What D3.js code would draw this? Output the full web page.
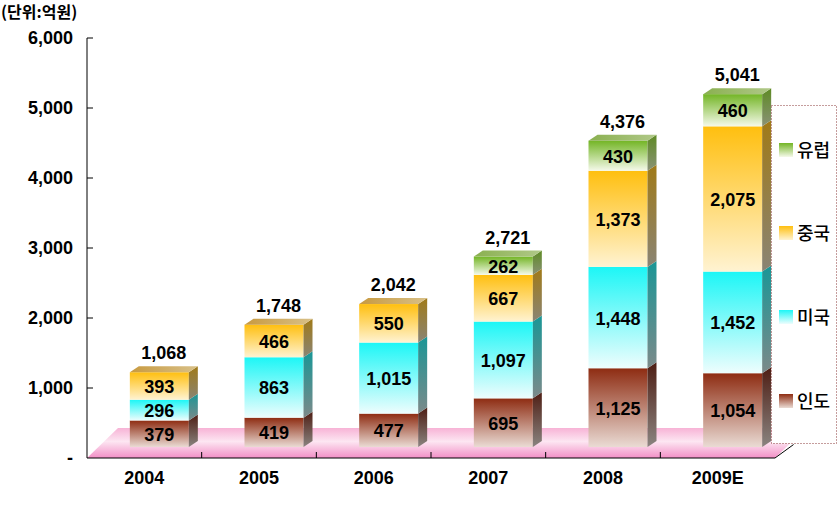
<!DOCTYPE html>
<html><head><meta charset="utf-8">
<script src="https://cdn.jsdelivr.net/npm/d3@7"></script>
<style>body{margin:0;background:#fff}svg{display:block}</style>
</head><body>
<script>
const categories = ["2004","2005","2006","2007","2008","2009E"];
const seriesNames = ["인도","미국","중국","유럽"];
const india  = [379, 419, 477, 695, 1125, 1054];
const usa    = [296, 863, 1015, 1097, 1448, 1452];
const china  = [393, 466, 550, 667, 1373, 2075];
const europe = [0, 0, 0, 262, 430, 460];
const totals = [1068, 1748, 2042, 2721, 4376, 5041];
const yTicks = [0, 1000, 2000, 3000, 4000, 5000, 6000];

const W = 839, H = 506;
const svg = d3.select("body").append("svg").attr("width", W).attr("height", H);
const defs = svg.append("defs");

const frontCols = [["#8e2c12","#eadbd4"],["#1cf6f6","#eefdfd"],["#ffbf0f","#fff3d2"],["#73b525","#f5f9ea"]];
const sideCols  = [["#4e1e14","#8a8480"],["#1a9696","#7c8a8a"],["#a07a18","#8a8474"],["#5e8a24","#8a9276"]];
const topCols   = [["#8a5040","#b89080"],["#5ac8c8","#90d0d0"],["#c89a40","#d8c088"],["#8ab050","#b0c888"]];
function grad(id, c, horiz){
  const g = defs.append("linearGradient").attr("id", id)
    .attr("x1",0).attr("y1",0).attr("x2", horiz?1:0).attr("y2", horiz?0:1);
  g.append("stop").attr("offset","0%").attr("stop-color",c[0]);
  g.append("stop").attr("offset","100%").attr("stop-color",c[1]);
}
seriesNames.forEach((s,i)=>{ grad("f"+i, frontCols[i]); grad("s"+i, sideCols[i]); grad("t"+i, topCols[i], true); });
const fg = defs.append("linearGradient").attr("id","floor").attr("x1",0).attr("y1",0).attr("x2",0).attr("y2",1);
[["0%","#f7b3d6"],["45%","#fde6f2"],["100%","#f28fc6"]].forEach(d=>fg.append("stop").attr("offset",d[0]).attr("stop-color",d[1]));

const x = d3.scaleBand().domain(categories).range([87, 775]).paddingInner(0).paddingOuter(0);
const y = d3.scaleLinear().domain([0, 6000]).range([458, 38]);

// floor
const fd = {dx: 31, dy: -30};
svg.append("polygon").attr("fill","url(#floor)")
  .attr("points", [[87, y(0)],[87+fd.dx, y(0)+fd.dy],[775+fd.dx, y(0)+fd.dy],[775, y(0)]].map(p=>p.join(",")).join(" "));
svg.append("line").attr("x1",775).attr("y1",y(0)).attr("x2",775+fd.dx*0.6).attr("y2",y(0)+fd.dy*0.45).attr("stroke","#000").attr("stroke-width",1);

// y axis
const yAxis = svg.append("g");
yAxis.append("line").attr("x1",87).attr("x2",87).attr("y1",y(6000)).attr("y2",y(0)).attr("stroke","#000");
yTicks.forEach(t=>{
  if(t>0) yAxis.append("line").attr("x1",87).attr("x2",93).attr("y1",y(t)).attr("y2",y(t)).attr("stroke","#000");
  yAxis.append("text").attr("x", 73).attr("y", y(t)+6).attr("text-anchor","end")
    .attr("font-family","Liberation Sans, Arial, sans-serif").attr("font-weight","bold").attr("font-size",18)
    .text(t===0 ? "-" : d3.format(",")(t));
});
// x axis
svg.append("line").attr("x1",87).attr("x2",775).attr("y1",y(0)).attr("y2",y(0)).attr("stroke","#000");
categories.forEach((c,i)=>{
  const bx = x(c)+x.bandwidth();
  if(i<categories.length-1) svg.append("line").attr("x1",bx).attr("x2",bx).attr("y1",y(0)-6).attr("y2",y(0)).attr("stroke","#000");
  svg.append("text").attr("x", x(c)+x.bandwidth()/2).attr("y", 484).attr("text-anchor","middle")
    .attr("font-family","Liberation Sans, Arial, sans-serif").attr("font-weight","bold").attr("font-size",18).text(c);
});

const seriesData = [india, usa, china, europe];
const bw = 59, off = 15, lift = 11, dd = {dx: 9, dy: -6};
const barsG = svg.append("g");
categories.forEach((c,ci)=>{
  const x0 = x(c)+x.bandwidth()/2 + off - bw/2, x1 = x0 + bw;
  let base = 0;
  const segs = [];
  seriesData.forEach((arr,si)=>{
    const v = arr[ci];
    if(v>0){ segs.push({si, v, b: base, t: base+v}); base += v; }
  });
  segs.forEach((s,k)=>{
    const yt = y(s.t)-lift, yb = y(s.b)-lift;
    barsG.append("rect").attr("x",x0).attr("y",yt).attr("width",bw).attr("height",yb-yt).attr("fill",`url(#f${s.si})`);
    barsG.append("polygon").attr("fill",`url(#s${s.si})`)
      .attr("points",[[x1,yt],[x1+dd.dx,yt+dd.dy],[x1+dd.dx,yb+dd.dy],[x1,yb]].map(p=>p.join(",")).join(" "));
    if(k===segs.length-1){
      barsG.append("polygon").attr("fill",`url(#t${s.si})`)
        .attr("points",[[x0,yt],[x0+dd.dx,yt+dd.dy],[x1+dd.dx,yt+dd.dy],[x1,yt]].map(p=>p.join(",")).join(" "));
    }
    barsG.append("text").attr("x",(x0+x1)/2).attr("y",(yt+yb)/2+7).attr("text-anchor","middle")
      .attr("font-family","Liberation Sans, Arial, sans-serif").attr("font-weight","bold").attr("font-size",18)
      .text(d3.format(",")(s.v));
  });
  barsG.append("text").attr("x",(x0+x1)/2+4.5).attr("y", y(totals[ci])-lift+dd.dy-7).attr("text-anchor","middle")
    .attr("font-family","Liberation Sans, Arial, sans-serif").attr("font-weight","bold").attr("font-size",18)
    .text(d3.format(",")(totals[ci]));
});

// legend
const lg = svg.append("g");
lg.append("rect").attr("x",771.5).attr("y",105.5).attr("width",65).attr("height",338)
  .attr("fill","#fff").attr("stroke","#8b3a3a").attr("stroke-width",1).attr("stroke-dasharray","1,2");
const legendOrder = [3,2,1,0];
const legendY = [150, 233, 317, 401];
legendOrder.forEach((si,k)=>{
  lg.append("rect").attr("x",779).attr("y",legendY[k]-7).attr("width",14).attr("height",14).attr("fill",`url(#f${si})`);
  lg.append("text").attr("x",797).attr("y",legendY[k]+7)
    .attr("font-family","Noto Sans CJK KR, sans-serif").attr("font-size",18).attr("font-weight",500).text(seriesNames[si]);
});

// unit title
svg.append("text").attr("x",1).attr("y",18).attr("font-family","Noto Sans CJK KR, sans-serif")
  .attr("font-weight","bold").attr("font-size",16).text("(단위:억원)");
</script>
</body></html>
